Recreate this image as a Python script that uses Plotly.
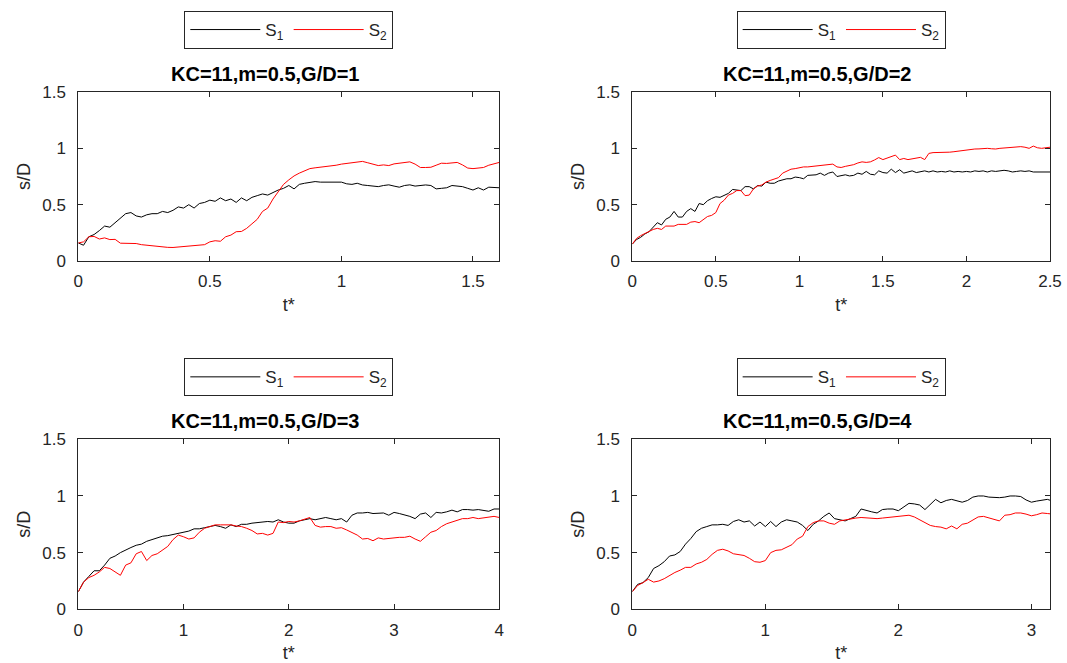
import plotly.graph_objects as go

# ---- G/D = 1 ----
t_gd1 = [round(i * 0.02, 4) for i in range(81)]
s1_gd1 = [0.16, 0.14, 0.215, 0.235, 0.27, 0.31, 0.30, 0.34, 0.38, 0.42,
          0.43, 0.40, 0.39, 0.41, 0.42, 0.42, 0.44, 0.43, 0.45, 0.48,
          0.47, 0.50, 0.47, 0.51, 0.52, 0.54, 0.53, 0.56, 0.535, 0.55,
          0.52, 0.56, 0.535, 0.565, 0.58, 0.595, 0.585, 0.61, 0.63, 0.645,
          0.67, 0.64, 0.68, 0.69, 0.70, 0.705, 0.70, 0.70, 0.70, 0.705,
          0.70, 0.685, 0.68, 0.69, 0.675, 0.67, 0.665, 0.66, 0.67, 0.676,
          0.665, 0.655, 0.67, 0.676, 0.665, 0.668, 0.675, 0.67, 0.64, 0.645,
          0.65, 0.67, 0.665, 0.66, 0.645, 0.63, 0.65, 0.63, 0.655, 0.65,
          0.65]
s2_gd1 = [0.16, 0.17, 0.215, 0.218, 0.195, 0.205, 0.19, 0.192, 0.158, 0.155,
          0.156, 0.155, 0.145, 0.14, 0.132, 0.127, 0.124, 0.121, 0.12, 0.124,
          0.13, 0.132, 0.138, 0.14, 0.145, 0.17, 0.18, 0.175, 0.215, 0.23,
          0.26, 0.262, 0.29, 0.33, 0.37, 0.44, 0.47, 0.55, 0.62, 0.68,
          0.72, 0.755, 0.78, 0.80, 0.82, 0.827, 0.832, 0.838, 0.843, 0.85,
          0.86, 0.865, 0.873, 0.88, 0.884, 0.872, 0.86, 0.847, 0.853, 0.847,
          0.862, 0.87, 0.872, 0.88, 0.86, 0.83, 0.83, 0.832, 0.85, 0.868,
          0.866, 0.872, 0.875, 0.853, 0.825, 0.82, 0.828, 0.83, 0.85, 0.866,
          0.875]

# ---- G/D = 2 ----
t_gd2 = [round(i * 0.025, 4) for i in range(101)]
s1_gd2 = [0.15, 0.19, 0.21, 0.24, 0.26, 0.30, 0.34, 0.32, 0.37, 0.39,
          0.44, 0.39, 0.39, 0.44, 0.465, 0.44, 0.51, 0.50, 0.535, 0.555,
          0.57, 0.565, 0.585, 0.60, 0.635, 0.63, 0.625, 0.66, 0.66, 0.64,
          0.67, 0.665, 0.70, 0.69, 0.69, 0.71, 0.72, 0.73, 0.73, 0.745,
          0.74, 0.73, 0.76, 0.76, 0.765, 0.78, 0.76, 0.78, 0.79, 0.75,
          0.76, 0.765, 0.755, 0.76, 0.78, 0.77, 0.795, 0.77, 0.765, 0.80,
          0.785, 0.78, 0.815, 0.785, 0.81, 0.78, 0.79, 0.80, 0.785, 0.79,
          0.80, 0.79, 0.80, 0.79, 0.795, 0.79, 0.80, 0.79, 0.795, 0.79,
          0.795, 0.79, 0.80, 0.795, 0.80, 0.79, 0.80, 0.795, 0.80, 0.805,
          0.80, 0.79, 0.795, 0.80, 0.795, 0.80, 0.79, 0.79, 0.79, 0.795,
          0.79]
s2_gd2 = [0.15, 0.20, 0.225, 0.245, 0.265, 0.28, 0.29, 0.28, 0.31, 0.31,
          0.31, 0.325, 0.325, 0.325, 0.345, 0.35, 0.34, 0.37, 0.395, 0.405,
          0.43, 0.51, 0.54, 0.585, 0.60, 0.625, 0.625, 0.58, 0.585, 0.64,
          0.665, 0.675, 0.70, 0.715, 0.73, 0.74, 0.78, 0.80, 0.815, 0.82,
          0.83, 0.835, 0.835, 0.84, 0.84, 0.845, 0.85, 0.855, 0.86, 0.835,
          0.83, 0.84, 0.845, 0.855, 0.87, 0.88, 0.875, 0.88, 0.897, 0.918,
          0.90, 0.912, 0.93, 0.94, 0.90, 0.91, 0.90, 0.905, 0.91, 0.92,
          0.90, 0.955, 0.962, 0.962, 0.962, 0.965, 0.966, 0.97, 0.975, 0.98,
          0.988, 0.99, 0.994, 0.995, 0.998, 1.0, 0.996, 0.994, 1.0, 1.004,
          1.006, 1.01, 1.012, 1.015, 1.01, 1.0, 1.02, 1.005, 1.0, 1.005,
          1.01]

# ---- G/D = 3 ----
t_gd3 = [round(i * 0.05, 4) for i in range(81)]
s1_gd3 = [0.155, 0.24, 0.29, 0.34, 0.34, 0.39, 0.45, 0.47, 0.50, 0.525,
          0.545, 0.565, 0.575, 0.60, 0.615, 0.625, 0.645, 0.65, 0.66, 0.675,
          0.685, 0.69, 0.71, 0.71, 0.72, 0.73, 0.74, 0.73, 0.715, 0.745,
          0.73, 0.75, 0.75, 0.76, 0.765, 0.77, 0.775, 0.77, 0.79, 0.77,
          0.76, 0.76, 0.78, 0.79, 0.80, 0.79, 0.80, 0.81, 0.80, 0.79,
          0.80, 0.77, 0.83, 0.85, 0.85, 0.855, 0.845, 0.845, 0.85, 0.83,
          0.855, 0.845, 0.835, 0.82, 0.80, 0.84, 0.85, 0.81, 0.855, 0.85,
          0.86, 0.875, 0.86, 0.88, 0.88, 0.875, 0.88, 0.875, 0.865, 0.885,
          0.885]
s2_gd3 = [0.155, 0.24, 0.28, 0.30, 0.33, 0.37, 0.36, 0.33, 0.30, 0.39,
          0.41, 0.49, 0.51, 0.43, 0.475, 0.49, 0.52, 0.555, 0.615, 0.655,
          0.64, 0.62, 0.63, 0.68, 0.715, 0.73, 0.745, 0.745, 0.748, 0.745,
          0.735, 0.73, 0.715, 0.695, 0.665, 0.67, 0.655, 0.67, 0.77, 0.765,
          0.775, 0.77, 0.78, 0.795, 0.81, 0.74, 0.725, 0.73, 0.73, 0.715,
          0.72, 0.70, 0.68, 0.655, 0.62, 0.625, 0.605, 0.63, 0.62, 0.625,
          0.635, 0.635, 0.635, 0.645, 0.62, 0.60, 0.64, 0.68, 0.695, 0.73,
          0.755, 0.77, 0.79, 0.80, 0.80, 0.81, 0.80, 0.805, 0.81, 0.82,
          0.81]

# ---- G/D = 4 ----
t_gd4 = [round(i * 0.04, 4) for i in range(80)]
s1_gd4 = [0.156, 0.22, 0.235, 0.28, 0.36, 0.385, 0.42, 0.47, 0.48, 0.51,
          0.575, 0.625, 0.685, 0.715, 0.73, 0.745, 0.745, 0.75, 0.74, 0.775,
          0.79, 0.77, 0.78, 0.735, 0.77, 0.73, 0.775, 0.73, 0.77, 0.79,
          0.78, 0.77, 0.74, 0.695, 0.75, 0.78, 0.82, 0.85, 0.80, 0.79,
          0.78, 0.80, 0.82, 0.885, 0.87, 0.86, 0.85, 0.88, 0.885, 0.885,
          0.87, 0.90, 0.935, 0.93, 0.92, 0.88, 0.925, 0.97, 0.94, 0.96,
          0.97, 0.96, 0.945, 0.96, 0.99, 1.0, 1.0, 0.99, 0.985, 0.985,
          0.99, 1.0, 1.0, 0.995, 0.965, 0.945, 0.955, 0.965, 0.97, 0.955]
s2_gd4 = [0.156, 0.21, 0.235, 0.265, 0.24, 0.25, 0.27, 0.30, 0.325, 0.345,
          0.37, 0.37, 0.40, 0.415, 0.44, 0.485, 0.52, 0.53, 0.515, 0.49,
          0.48, 0.475, 0.45, 0.42, 0.415, 0.43, 0.50, 0.52, 0.525, 0.55,
          0.57, 0.62, 0.645, 0.73, 0.765, 0.78, 0.78, 0.76, 0.75, 0.78,
          0.79, 0.80, 0.805, 0.81, 0.805, 0.80, 0.80, 0.805, 0.81, 0.815,
          0.82, 0.825, 0.83, 0.815, 0.79, 0.76, 0.74, 0.73, 0.725, 0.71,
          0.735, 0.71, 0.75, 0.76, 0.79, 0.815, 0.82, 0.805, 0.795, 0.78,
          0.83, 0.835, 0.85, 0.85, 0.84, 0.825, 0.835, 0.85, 0.845, 0.84]

panels = [
    ("KC=11,m=0.5,G/D=1", t_gd1, s1_gd1, s2_gd1, [0, 1.6], [0, 0.5, 1, 1.5]),
    ("KC=11,m=0.5,G/D=2", t_gd2, s1_gd2, s2_gd2, [0, 2.5], [0, 0.5, 1, 1.5, 2, 2.5]),
    ("KC=11,m=0.5,G/D=3", t_gd3, s1_gd3, s2_gd3, [0, 4], [0, 1, 2, 3, 4]),
    ("KC=11,m=0.5,G/D=4", t_gd4, s1_gd4, s2_gd4, [0, 3.14], [0, 1, 2, 3]),
]
y_ticks = [0, 0.5, 1, 1.5]

W, H = 1067, 663
FONT = "Liberation Sans, Arial, Helvetica, sans-serif"
AX = "#262626"

# plot-area boxes in pixels: (left, right, top, bottom)
boxes = [(78.3, 499.3, 92, 261), (632.3, 1050, 92, 261),
         (78.3, 499.3, 439.3, 609.3), (632.3, 1050, 439.3, 609.3)]

fig = go.Figure()
annotations = []
layout = {}

for k, (title, t, s1, s2, xr, xt) in enumerate(panels):
    n = "" if k == 0 else str(k + 1)
    leg = "legend" if k == 0 else f"legend{k + 1}"
    fig.add_trace(go.Scatter(x=t, y=s1, mode="lines", name="S<sub>1</sub>",
                             line=dict(color="black", width=1),
                             xaxis="x" + n, yaxis="y" + n, legend=leg))
    fig.add_trace(go.Scatter(x=t, y=s2, mode="lines", name="S<sub>2</sub>",
                             line=dict(color="#ff0000", width=1),
                             xaxis="x" + n, yaxis="y" + n, legend=leg))
    l, r, top, bot = boxes[k]
    xd = [l / W, r / W]
    yd = [1 - bot / H, 1 - top / H]
    common = dict(showline=True, linecolor=AX, linewidth=1, mirror="allticks",
                  ticks="inside", ticklen=5, tickcolor=AX, tickwidth=1,
                  showgrid=False, zeroline=False, automargin=False,
                  tickfont=dict(family=FONT, size=17, color=AX))
    layout["xaxis" + n] = dict(domain=xd, anchor="y" + n, range=xr,
                               tickvals=xt, ticktext=[f"{v:g}" for v in xt],
                               ticklabelstandoff=5,
                               title=dict(text="t*", standoff=7,
                                          font=dict(family=FONT, size=18, color=AX)),
                               **common)
    layout["yaxis" + n] = dict(domain=yd, anchor="x" + n, range=[0, 1.5],
                               tickvals=y_ticks, ticktext=[f"{v:g}" for v in y_ticks],
                               ticklabelstandoff=8,
                               title=dict(text="s/D", standoff=6,
                                          font=dict(family=FONT, size=18, color=AX)),
                               **common)
    cx = (l + r) / 2
    annotations.append(dict(text=f"<b>{title}</b>", x=(cx - 24) / W,
                            y=1 - (top - 18) / H, xref="paper", yref="paper",
                            xanchor="center", yanchor="middle", showarrow=False,
                            font=dict(family=FONT, size=20, color="black")))
    layout[leg] = dict(x=cx / W, y=1 - (top - 81) / H, xanchor="center",
                       yanchor="top", orientation="h", bgcolor="white",
                       bordercolor=AX, borderwidth=1, itemwidth=70,
                       font=dict(family=FONT, size=17, color=AX))

fig.update_layout(width=W, height=H, margin=dict(l=0, r=0, t=0, b=0),
                  paper_bgcolor="white", plot_bgcolor="white",
                  annotations=annotations, showlegend=True, **layout)
fig.write_html("out.html")
